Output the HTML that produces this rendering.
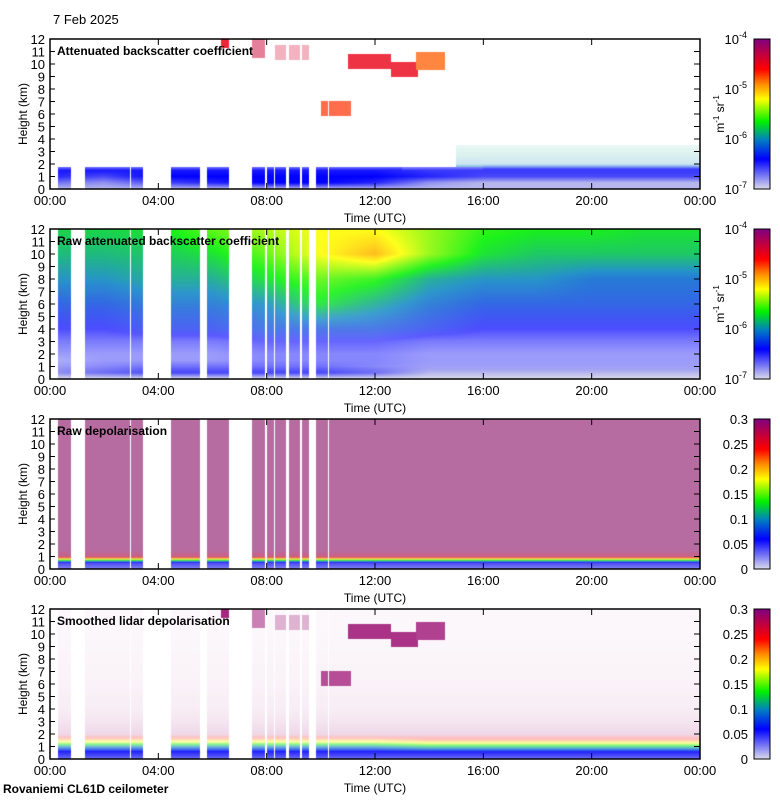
<!DOCTYPE html>
<html><head><meta charset="utf-8">
<style>
body{margin:0;background:#fff;width:780px;height:800px;position:relative;overflow:hidden;font-family:"Liberation Sans",sans-serif}
canvas{position:absolute}
svg{position:absolute;left:0;top:0}
text{font-family:"Liberation Sans",sans-serif;fill:#000}
</style></head><body>
<div>
<canvas id="c0" width="650" height="150" style="left:50px;top:39px"></canvas>
<canvas id="c1" width="650" height="150" style="left:50px;top:229px"></canvas>
<canvas id="c2" width="650" height="150" style="left:50px;top:419px"></canvas>
<canvas id="c3" width="650" height="150" style="left:50px;top:609px"></canvas>
<svg id="ax" width="780" height="800"></svg>
</div>
<script>
// ---- data ----
const timeNodes=[0,2,4,6,8,10,12,14,16,18,20,22,24];
const heightNodes=[0,0.5,1,1.5,2,3,4,6,8,10,12];
const gapStart=[0,0.78,2.95,3.43,5.54,6.61,7.94,8.27,8.71,9.23,9.56,10.26];
const gapEnd=[0.3,1.29,3.0,4.47,5.8,7.46,8.0,8.31,8.82,9.3,9.82,10.3];
const N=null;
const attGrid=[
[-6.9,-6.9,-6.9,-6.9,-6.9,-6.9,-6.9,-6.9,-6.9,-6.9,-6.9,-6.9,-6.9],
[-6.7,-6.8,-6.6,-6.5,-6.4,-6.4,-6.5,-6.8,-6.9,-6.9,-6.9,-6.9,-6.9],
[-6.5,-6.6,-6.4,-6.4,-6.4,-6.4,-6.4,-6.5,-6.6,-6.6,-6.6,-6.6,-6.6],
[-6.4,-6.4,-6.4,-6.4,-6.4,-6.4,-6.4,-6.5,-6.5,-6.5,-6.5,-6.5,-6.5],
[N,N,N,N,N,N,N,N,-6.0,-6.0,-6.0,-6.0,-6.0],
[N,N,N,N,N,N,N,N,-5.9,-5.9,-5.9,-5.9,-5.9],
[N,N,N,N,N,N,N,N,N,N,N,N,N],
[N,N,N,N,N,N,N,N,N,N,N,N,N],
[N,N,N,N,N,N,N,N,N,N,N,N,N],
[N,N,N,N,N,N,N,N,N,N,N,N,N],
[N,N,N,N,N,N,N,N,N,N,N,N,N]];
const attCoverage=[1,1,1,0.9,0.2,0.12,0.05,0,0,0,0];
const rawGrid=[
[-7,-7,-7,-7,-7,-7,-7,-7,-7,-7,-7,-7,-7],
[-6.8,-6.7,-6.6,-6.6,-6.6,-6.6,-6.7,-6.9,-6.9,-6.9,-6.9,-6.9,-6.9],
[-6.7,-6.6,-6.5,-6.5,-6.5,-6.5,-6.6,-6.7,-6.7,-6.7,-6.7,-6.7,-6.7],
[-6.7,-6.6,-6.6,-6.6,-6.5,-6.5,-6.5,-6.6,-6.6,-6.6,-6.6,-6.6,-6.6],
[-6.6,-6.6,-6.6,-6.6,-6.5,-6.5,-6.5,-6.6,-6.6,-6.6,-6.6,-6.6,-6.6],
[-6.5,-6.5,-6.5,-6.5,-6.4,-6.4,-6.4,-6.5,-6.5,-6.5,-6.5,-6.5,-6.5],
[-6.4,-6.4,-6.3,-6.3,-6.2,-6.2,-6.2,-6.3,-6.4,-6.4,-6.4,-6.4,-6.4],
[-6.2,-6.2,-6.1,-6.1,-6.0,-5.7,-5.9,-6.1,-6.2,-6.2,-6.2,-6.2,-6.2],
[-6.0,-6.0,-5.9,-5.9,-5.7,-5.5,-5.6,-5.9,-6.0,-6.0,-6.1,-6.1,-6.1],
[-5.85,-5.85,-5.8,-5.7,-5.5,-5.2,-5.0,-5.4,-5.7,-5.8,-5.8,-5.8,-5.8],
[-5.75,-5.75,-5.7,-5.5,-5.35,-5.2,-5.2,-5.4,-5.6,-5.65,-5.65,-5.7,-5.7]];
const rawCoverage=[1,1,0.65,0.55,0.55,0.6,0.7,0.8,0.85,0.88,0.9];
const depGrid=[
[0.03,0.03,0.03,0.03,0.03,0.03,0.03,0.03,0.03,0.03,0.03,0.03,0.03],
[0.05,0.05,0.05,0.05,0.05,0.05,0.05,0.05,0.05,0.05,0.05,0.05,0.05],
[0.27,0.27,0.27,0.27,0.27,0.27,0.27,0.27,0.27,0.27,0.27,0.27,0.27],
[0.29,0.29,0.29,0.29,0.29,0.29,0.29,0.29,0.29,0.29,0.29,0.29,0.29],
[0.29,0.29,0.29,0.29,0.29,0.29,0.29,0.29,0.29,0.29,0.29,0.29,0.29],
[0.29,0.29,0.29,0.29,0.29,0.29,0.29,0.29,0.29,0.29,0.29,0.29,0.29],
[0.29,0.29,0.29,0.29,0.29,0.29,0.29,0.29,0.29,0.29,0.29,0.29,0.29],
[0.29,0.29,0.29,0.29,0.29,0.29,0.29,0.29,0.29,0.29,0.29,0.29,0.29],
[0.29,0.29,0.29,0.29,0.29,0.29,0.29,0.29,0.29,0.29,0.29,0.29,0.29],
[0.29,0.29,0.29,0.29,0.29,0.29,0.29,0.29,0.29,0.29,0.29,0.29,0.29],
[0.29,0.29,0.29,0.29,0.29,0.29,0.29,0.29,0.29,0.29,0.29,0.29,0.29]];
const depCoverage=[0.8,0.8,0.55,0.5,0.5,0.5,0.5,0.5,0.5,0.5,0.5];
const smGrid=[
[0.03,0.03,0.03,0.03,0.03,0.03,0.03,0.03,0.03,0.03,0.03,0.03,0.03],
[0.05,0.05,0.05,0.05,0.05,0.05,0.05,0.05,0.05,0.05,0.05,0.05,0.05],
[0.1,0.1,0.1,0.1,0.1,0.1,0.1,0.12,0.12,0.12,0.12,0.12,0.12],
[0.2,0.2,0.2,0.2,0.2,0.2,0.2,0.22,0.22,0.22,0.22,0.22,0.22],
[0.29,0.29,0.29,0.29,0.29,0.29,0.29,0.29,0.29,0.29,0.29,0.29,0.29],
[0.29,0.29,0.29,0.29,0.29,0.29,0.29,0.29,0.29,0.29,0.29,0.29,0.29],
[0.29,0.29,0.29,0.29,0.29,0.29,0.29,0.29,0.29,0.29,0.29,0.29,0.29],
[0.29,0.29,0.29,0.29,0.29,0.29,0.29,0.29,0.29,0.29,0.29,0.29,0.29],
[0.29,0.29,0.29,0.29,0.29,0.29,0.29,0.29,0.29,0.29,0.29,0.29,0.29],
[0.29,0.29,0.29,0.29,0.29,0.29,0.29,0.29,0.29,0.29,0.29,0.29,0.29],
[0.29,0.29,0.29,0.29,0.29,0.29,0.29,0.29,0.29,0.29,0.29,0.29,0.29]];
const smCoverage=[1,0.95,0.55,0.3,0.15,0.1,0.07,0.05,0.04,0.03,0.03];
const cloudStart=[11.0,12.6,13.5,10.0,7.2,8.3,6.3];
const cloudEnd=[12.6,13.6,14.6,11.1,8.0,9.8,6.7];
const cloudBase=[9.6,9.0,9.5,5.8,10.5,10.3,11.3];
const cloudTop=[10.8,10.2,11.0,7.0,12.0,11.5,12.0];
const cloudBeta=[-4.5,-4.5,-4.8,-4.7,-4.35,-4.4,-4.5];
const cloudDepol=[0.29,0.29,0.29,0.29,0.29,0.29,0.29];
const cloudCoverage=[0.8,0.8,0.75,0.7,0.5,0.3,0.85];
const yTicks=[0,1,2,3,4,5,6,7,8,9,10,11,12];
const xTickHours=[0,4,8,12,16,20,24];
const xTickLabels=["00:00","04:00","08:00","12:00","16:00","20:00","00:00"];
const panelTitles=["Attenuated backscatter coefficient","Raw attenuated backscatter coefficient","Raw depolarisation","Smoothed lidar depolarisation"];
const depTickVals=[0,0.05,0.1,0.15,0.2,0.25,0.3];
const depTickLabels=["0","0.05","0.1","0.15","0.2","0.25","0.3"];
const betaExps=[-7,-6,-5,-4];

// ---- colormap ----
const cmStops=[[0,[220,220,234]],[0.2,[0,0,255]],[0.33,[0,128,192]],[0.45,[0,240,0]],[0.6,[255,255,0]],[0.7,[255,140,0]],[0.8,[255,0,0]],[0.9,[192,0,64]],[1,[128,0,128]]];
function cmap(f){f=Math.max(0,Math.min(1,f));for(let i=0;i<cmStops.length-1;i++){const a=cmStops[i],b=cmStops[i+1];if(f<=b[0]){const u=(f-a[0])/(b[0]-a[0]);return a[1].map((v,k)=>v+(b[1][k]-v)*u);}}return cmStops[cmStops.length-1][1];}
function seg(arr,v){for(let i=0;i<arr.length-1;i++)if(v<=arr[i+1])return i;return arr.length-2;}
function gridVal(g,t,h){const i=seg(timeNodes,t),j=seg(heightNodes,h);const u=(t-timeNodes[i])/(timeNodes[i+1]-timeNodes[i]),w=(h-heightNodes[j])/(heightNodes[j+1]-heightNodes[j]);
const a=g[j][i],b=g[j][i+1],c=g[j+1][i],d=g[j+1][i+1];
if(a===null||b===null||c===null||d===null){const ii=u<0.5?i:i+1,jj=w<0.5?j:j+1;return g[jj][ii];}
return a*(1-u)*(1-w)+b*u*(1-w)+c*(1-u)*w+d*u*w;}
function prof(p,h){const j=seg(heightNodes,h);const w=(h-heightNodes[j])/(heightNodes[j+1]-heightNodes[j]);return p[j]*(1-w)+p[j+1]*w;}
function inGap(t){for(let k=0;k<gapStart.length;k++)if(t>=gapStart[k]&&t<gapEnd[k])return true;return false;}
function xOf(t){return 50+t/24*650;}
function render(id,grid,cov,toF,bg,clouds){
 const cv=document.getElementById(id),ctx=cv.getContext('2d'),im=ctx.createImageData(650,150);
 for(let x=0;x<650;x++){const t=(x+0.5)/650*24;const gap=inGap(t);
  for(let y=0;y<150;y++){const h=12*(1-(y+0.5)/150);let col=[255,255,255];
   if(!gap){let v=gridVal(grid,t,h),c=prof(cov,h);
    if(clouds){for(let k=0;k<cloudStart.length;k++){if(t>=cloudStart[k]&&t<cloudEnd[k]&&h>=cloudBase[k]&&h<cloudTop[k]){v=clouds[k];c=cloudCoverage[k];}}}
    if(v!==null){const m=cmap(toF(v));col=m.map((q,k)=>q*c+bg[k]*(1-c));}else col=bg;}
   const o=(y*650+x)*4;im.data[o]=col[0];im.data[o+1]=col[1];im.data[o+2]=col[2];im.data[o+3]=255;}}
 ctx.putImageData(im,0,0);}
const fb=v=>(v+7)/3, fd=v=>v/0.3;
render('c0',attGrid,attCoverage,fb,[255,255,255],cloudBeta);
render('c1',rawGrid,rawCoverage,fb,[255,255,255],null);
render('c2',depGrid,depCoverage,fd,[216,216,216],null);
render('c3',smGrid,smCoverage,fd,[255,255,255],cloudDepol);

// ---- axes ----
const svg=document.getElementById('ax');const NS='http://www.w3.org/2000/svg';
function el(tag,attrs,txt){const e=document.createElementNS(NS,tag);for(const k in attrs)e.setAttribute(k,attrs[k]);if(txt!==undefined)e.textContent=txt;svg.appendChild(e);return e;}
const tops=[39,229,419,609];
tops.forEach((top,p)=>{
 const bot=top+150;
 const fr=el('rect',{x:50,y:top,width:650,height:150,fill:'none',stroke:'#000','stroke-width':1.5});
 
 
 yTicks.forEach(v=>{const y=bot-v/12*150;
  el('line',{x1:50,x2:55,y1:y,y2:y,stroke:'#000'});
  el('line',{x1:694,x2:700,y1:y,y2:y,stroke:'#000'});
  const t=el('text',{x:45,y:y+5,'font-size':13,'text-anchor':'end'},String(v));
  
  });
 xTickHours.forEach((hv,i)=>{const x=xOf(hv);
  el('line',{x1:x,x2:x,y1:bot,y2:bot-6,stroke:'#000'});
  el('line',{x1:x,x2:x,y1:top,y2:top+6,stroke:'#000'});
  const t=el('text',{x:x,y:bot+16,'font-size':13,'text-anchor':'middle'},xTickLabels[i]);
  
  });
 const xt=el('text',{x:375,y:bot+33,'font-size':12,'text-anchor':'middle'},'Time (UTC)');
 
 
 const yt=el('text',{x:0,y:0,'font-size':12,'text-anchor':'middle',transform:`translate(27,${top+75}) rotate(-90)`},'Height (km)');
 
 
 const pt=el('text',{x:57,y:top+16,'font-size':12,'font-weight':'bold'},panelTitles[p]);
 
 
 for(let i=0;i<150;i++){const c=cmap((i+0.5)/150).map(Math.round);
  el('rect',{x:754,y:bot-i-1,width:16,height:1.2,fill:`rgb(${c[0]},${c[1]},${c[2]})`});}
 const cb=el('rect',{x:754,y:top,width:16,height:150,fill:'none',stroke:'#000'});
 
 
 if(p<2){
  betaExps.forEach(e=>{const y=bot-(e+7)/3*150;
   const t=el('text',{x:747,y:y+5,'font-size':13,'text-anchor':'end'});
   
   
   const a=document.createElementNS(NS,'tspan');a.textContent='10';t.appendChild(a);
   const b=document.createElementNS(NS,'tspan');b.setAttribute('dy','-6');b.setAttribute('font-size','9');b.textContent=String(e);t.appendChild(b);});
  const u=el('text',{x:0,y:0,'font-size':12,'text-anchor':'middle',transform:`translate(724,${top+75}) rotate(-90)`});
  
  
  u.innerHTML='<tspan>m</tspan><tspan dy="-5" font-size="8">-1</tspan><tspan dy="5"> sr</tspan><tspan dy="-5" font-size="8">-1</tspan>';
 }else{
  depTickVals.forEach((v,i)=>{const y=bot-v/0.3*150;
   const t=el('text',{x:748,y:y+5,'font-size':13,'text-anchor':'end'},depTickLabels[i]);
   
   });
 }
});
const d=el('text',{x:53,y:24,'font-size':13},'7 Feb 2025');


const s=el('text',{x:3,y:793,'font-size':12,'font-weight':'bold'},'Rovaniemi CL61D ceilometer');


</script>
</body></html>
